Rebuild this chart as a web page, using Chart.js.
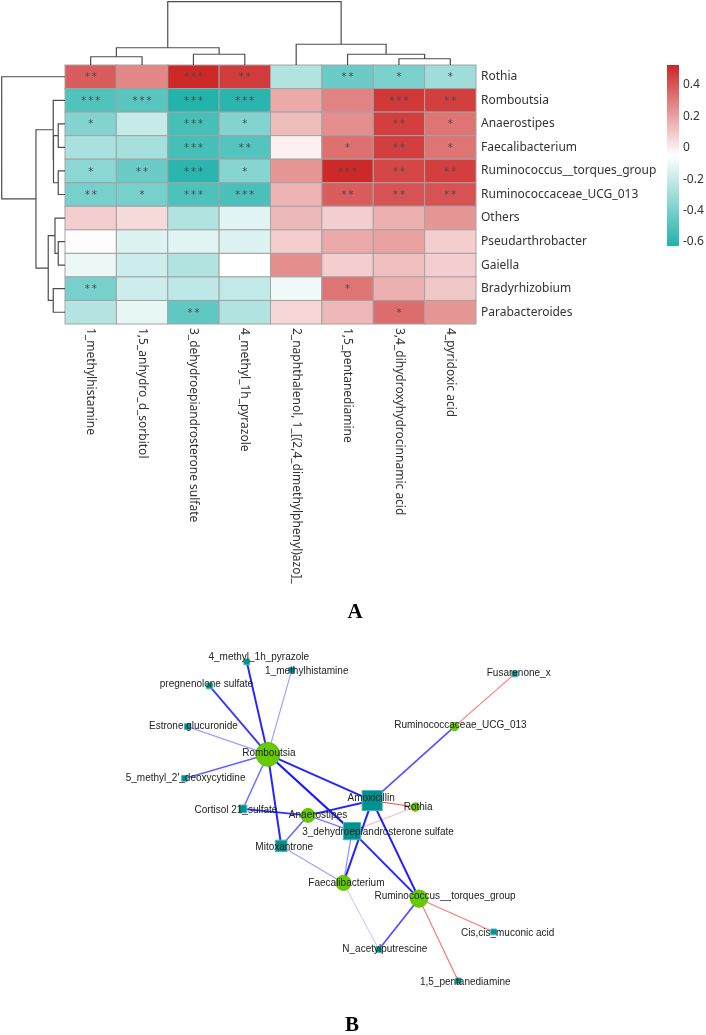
<!DOCTYPE html>
<html>
<head>
<meta charset="utf-8">
<script src="https://cdn.jsdelivr.net/npm/chart.js@4.4.1/dist/chart.umd.min.js"></script>
<style>
  html, body { margin: 0; padding: 0; background: #fff; }
  canvas { display: block; }
</style>
</head>
<body>
<canvas id="heatCanvas" width="706" height="630"></canvas>
<canvas id="netCanvas" width="706" height="405"></canvas>
<script>
//------------------------------------------------------------------------------
// 資料：相關係數熱圖 (A)
const taxa = ['Rothia', 'Romboutsia', 'Anaerostipes', 'Faecalibacterium', 'Ruminococcus__torques_group',
  'Ruminococcaceae_UCG_013', 'Others', 'Pseudarthrobacter', 'Gaiella', 'Bradyrhizobium', 'Parabacteroides'];

const metabolites = ['1_methylhistamine', '1,5_anhydro_d_sorbitol', '3_dehydroepiandrosterone sulfate',
  '4_methyl_1h_pyrazole', '2_naphthalenol, 1_[(2,4_dimethylphenyl)azo]_', '1,5_pentanediamine',
  '3,4_dihydroxyhydrocinnamic acid', '4_pyridoxic acid'];

// 每列一個菌屬，每欄一個代謝物
const corrValues = [
  [ 0.38,  0.27,  0.52,  0.47, -0.25, -0.43, -0.39, -0.30],
  [-0.50, -0.48, -0.62, -0.60,  0.18,  0.28,  0.48,  0.46],
  [-0.37, -0.20, -0.53, -0.37,  0.13,  0.25,  0.46,  0.32],
  [-0.27, -0.28, -0.53, -0.49, -0.01,  0.33,  0.46,  0.32],
  [-0.35, -0.43, -0.60, -0.36,  0.23,  0.52,  0.44,  0.46],
  [-0.40, -0.40, -0.51, -0.52,  0.15,  0.38,  0.41,  0.41],
  [ 0.08,  0.05, -0.25, -0.13,  0.14,  0.08,  0.16,  0.23],
  [-0.04, -0.14, -0.13, -0.14,  0.08,  0.18,  0.20,  0.08],
  [-0.10, -0.18, -0.25, -0.05,  0.25,  0.08,  0.12,  0.08],
  [-0.40, -0.18, -0.22, -0.21, -0.09,  0.32,  0.16,  0.10],
  [-0.24, -0.11, -0.46, -0.25,  0.06,  0.14,  0.34,  0.23]
];

const corrStars = [
  ['**', '', '***', '**', '', '**', '*', '*'],
  ['***', '***', '***', '***', '', '', '***', '**'],
  ['*', '', '***', '*', '', '', '**', '*'],
  ['', '', '***', '**', '', '*', '**', '*'],
  ['*', '**', '***', '*', '', '***', '**', '**'],
  ['**', '*', '***', '***', '', '**', '**', '**'],
  ['', '', '', '', '', '', '', ''],
  ['', '', '', '', '', '', '', ''],
  ['', '', '', '', '', '', '', ''],
  ['**', '', '', '', '', '*', '', ''],
  ['', '', '**', '', '', '', '*', '']
];

// 聚類樹 (hclust 格式：負數 = 葉節點，正數 = 前面的合併)
const colMerge = [[-1, -2, 0.33], [-3, -4, 0.43], [-7, -8, 0.25], [-6, 3, 0.43],
  [1, 2, 0.69], [-5, 4, 0.83], [5, 6, 2.53]];
const rowMerge = [[-3, -4, 0.27], [-5, -6, 0.27], [1, 2, 0.46], [-2, 3, 0.47], [-8, -9, 0.27],
  [-7, 5, 0.40], [-10, -11, 0.47], [6, 7, 0.67], [4, 8, 1.16], [-1, 9, 2.53]];

const legendMin = -0.625;
const legendMax = 0.527;
const legendTicks = [0.4, 0.2, 0, -0.2, -0.4, -0.6];

//------------------------------------------------------------------------------
// 資料：網絡圖 (B)
const nodeNames = ['4_methyl_1h_pyrazole', '1_methylhistamine', 'pregnenolone sulfate', 'Estrone glucuronide',
  'Romboutsia', "5_methyl_2'_deoxycytidine", 'Amoxicillin', 'Ruminococcaceae_UCG_013', 'Fusarenone_x',
  'Rothia', 'Cortisol 21_sulfate', 'Anaerostipes', '3_dehydroepiandrosterone sulfate', 'Mitoxantrone',
  'Faecalibacterium', 'Ruminococcus__torques_group', 'Cis,cis_muconic acid', 'N_acetylputrescine',
  '1,5_pentanediamine'];
const nodeX = [242, 289, 203, 180, 264, 177, 373, 459, 522, 418, 238, 306, 352, 278, 343, 422, 500, 380, 463];
const nodeY = [648, 657, 674, 718, 748, 774, 798, 718, 661, 805, 807, 814, 831, 847, 887, 904, 940, 959, 993];
const nodeIsTaxon = [0, 0, 0, 0, 1, 0, 0, 1, 0, 1, 0, 1, 0, 0, 1, 1, 0, 0, 0];
const nodeWeight = [1.5, 1.5, 1.5, 1.5, 9, 1.5, 9, 2, 1.5, 2, 2.5, 4.5, 7.5, 4.5, 5, 6, 1.5, 1.5, 1.5];

// 邊：[來源, 目標, 相關係數]
const edges = [
  ['Romboutsia', '4_methyl_1h_pyrazole', -0.55],
  ['Romboutsia', '1_methylhistamine', -0.36],
  ['Romboutsia', 'pregnenolone sulfate', -0.52],
  ['Romboutsia', 'Estrone glucuronide', -0.36],
  ['Romboutsia', "5_methyl_2'_deoxycytidine", -0.45],
  ['Romboutsia', 'Cortisol 21_sulfate', -0.43],
  ['Romboutsia', 'Mitoxantrone', -0.55],
  ['Romboutsia', '3_dehydroepiandrosterone sulfate', -0.57],
  ['Romboutsia', 'Amoxicillin', -0.55],
  ['Amoxicillin', 'Ruminococcaceae_UCG_013', -0.48],
  ['Amoxicillin', 'Rothia', 0.50],
  ['Amoxicillin', 'Anaerostipes', -0.55],
  ['Amoxicillin', 'Ruminococcus__torques_group', -0.56],
  ['Amoxicillin', 'Faecalibacterium', -0.55],
  ['3_dehydroepiandrosterone sulfate', 'Rothia', 0.33],
  ['3_dehydroepiandrosterone sulfate', 'Anaerostipes', -0.42],
  ['3_dehydroepiandrosterone sulfate', 'Ruminococcus__torques_group', -0.55],
  ['3_dehydroepiandrosterone sulfate', 'Faecalibacterium', -0.38],
  ['Anaerostipes', 'Cortisol 21_sulfate', -0.53],
  ['Anaerostipes', 'Mitoxantrone', -0.45],
  ['Mitoxantrone', 'Faecalibacterium', -0.36],
  ['Faecalibacterium', 'N_acetylputrescine', -0.31],
  ['Ruminococcus__torques_group', 'N_acetylputrescine', -0.48],
  ['Ruminococcus__torques_group', 'Cis,cis_muconic acid', 0.45],
  ['Ruminococcus__torques_group', '1,5_pentanediamine', 0.48],
  ['Ruminococcaceae_UCG_013', 'Fusarenone_x', 0.45]
];

//------------------------------------------------------------------------------
// 顏色：lightseagreen - white - firebrick3
const lowCol = [32, 178, 170];
const midCol = [255, 255, 255];
const highCol = [205, 38, 38];

function mix(a, b, t) {
  return 'rgb(' + a.map((c, k) => Math.round(c + (b[k] - c) * t)).join(',') + ')';
}
function heatColor(v) {
  let t = (v - legendMin) / (legendMax - legendMin);
  t = Math.max(0, Math.min(1, t));
  return t < 0.5 ? mix(lowCol, midCol, t * 2) : mix(midCol, highCol, (t - 0.5) * 2);
}

// 聚類樹：回傳每個節點的位置與高度，並畫線
function drawDendro(ctx, merges, leafPix, heightPix, vertical) {
  const pos = [], hgt = [];
  const get = id => id < 0 ? [leafPix(-id - 1), 0] : [pos[id - 1], hgt[id - 1]];
  const maxH = Math.max(...merges.map(m => m[2]));
  ctx.beginPath();
  merges.forEach(function(m, k) {
    const a = get(m[0]), b = get(m[1]);
    const h = m[2];
    pos[k] = (a[0] + b[0]) / 2;
    hgt[k] = h;
    const pa = heightPix(a[1] / maxH), pb = heightPix(b[1] / maxH), ph = heightPix(h / maxH);
    if (vertical) {       // 上方欄聚類樹
      ctx.moveTo(a[0], pa); ctx.lineTo(a[0], ph); ctx.lineTo(b[0], ph); ctx.lineTo(b[0], pb);
    } else {              // 左方列聚類樹
      ctx.moveTo(pa, a[0]); ctx.lineTo(ph, a[0]); ctx.lineTo(ph, b[0]); ctx.lineTo(pb, b[0]);
    }
  });
  ctx.stroke();
}

const heatmapPlugin = {
  id: 'heatmapCells',
  afterDatasetsDraw(chart) {
    const ctx = chart.ctx;
    const xs = chart.scales.x, ys = chart.scales.y;
    const area = chart.chartArea;
    ctx.save();

    // 色塊
    corrValues.forEach(function(row, i) {
      row.forEach(function(v, j) {
        const x0 = xs.getPixelForValue(j), x1 = xs.getPixelForValue(j + 1);
        const y0 = ys.getPixelForValue(i), y1 = ys.getPixelForValue(i + 1);
        ctx.fillStyle = heatColor(v);
        ctx.fillRect(x0, y0, x1 - x0, y1 - y0);
        ctx.strokeStyle = '#a3a3a3';
        ctx.lineWidth = 1;
        ctx.strokeRect(x0, y0, x1 - x0, y1 - y0);
      });
    });

    // 顯著性星號
    ctx.fillStyle = '#4a4a4a';
    ctx.font = '10px "DejaVu Sans"';
    ctx.textAlign = 'center';
    ctx.textBaseline = 'middle';
    corrStars.forEach(function(row, i) {
      row.forEach(function(s, j) {
        if (!s) return;
        const cx = xs.getPixelForValue(j + 0.5), cy = ys.getPixelForValue(i + 0.5);
        ctx.fillText(s.split('').join('\u2009'), cx, cy + 1);
      });
    });

    // 列名稱
    ctx.fillStyle = '#333';
    ctx.font = '12px "Noto Sans"';
    ctx.textAlign = 'left';
    taxa.forEach(function(name, i) {
      ctx.fillText(name, area.right + 5, ys.getPixelForValue(i + 0.5));
    });

    // 欄名稱 (旋轉 90 度)
    metabolites.forEach(function(name, j) {
      ctx.save();
      ctx.translate(xs.getPixelForValue(j + 0.5), area.bottom + 4);
      ctx.rotate(Math.PI / 2);
      ctx.textAlign = 'left';
      ctx.textBaseline = 'middle';
      ctx.fillText(name, 0, 0);
      ctx.restore();
    });

    // 聚類樹
    ctx.strokeStyle = '#4d4d4d';
    ctx.lineWidth = 1.2;
    const dendroSize = area.top - 1.7;
    drawDendro(ctx, colMerge, k => xs.getPixelForValue(k + 0.5), t => area.top - t * dendroSize, true);
    drawDendro(ctx, rowMerge, k => ys.getPixelForValue(k + 0.5), t => area.left - t * (area.left - 1.7), false);

    // 色條
    const barX = 667, barW = 12, barTop = area.top, barBottom = 246;
    const barPix = v => barBottom - (v - legendMin) / (legendMax - legendMin) * (barBottom - barTop);
    for (let p = barTop; p < barBottom; p++) {
      const v = legendMin + (barBottom - p - 0.5) / (barBottom - barTop) * (legendMax - legendMin);
      ctx.fillStyle = heatColor(v);
      ctx.fillRect(barX, p, barW, 1);
    }
    ctx.fillStyle = '#333';
    ctx.font = '12px "Noto Sans"';
    ctx.textAlign = 'left';
    ctx.textBaseline = 'middle';
    legendTicks.forEach(function(t) {
      ctx.fillText(String(t), barX + barW + 4, barPix(t));
    });

    // 圖號
    ctx.fillStyle = '#000';
    ctx.font = 'bold 21px "Liberation Serif"';
    ctx.textAlign = 'center';
    ctx.fillText('A', 355, 613);
    ctx.restore();
  }
};

const heatChart = new Chart(document.getElementById('heatCanvas').getContext('2d'), {
  type: 'scatter',
  data: { datasets: [] },
  options: {
    responsive: false,
    animation: false,
    layout: { padding: { left: 65, top: 65, right: 230, bottom: 306 } },
    scales: {
      x: { type: 'linear', min: 0, max: metabolites.length, display: false },
      y: { type: 'linear', min: 0, max: taxa.length, reverse: true, display: false }
    },
    plugins: { legend: { display: false }, tooltip: { enabled: false } }
  },
  plugins: [heatmapPlugin]
});

//------------------------------------------------------------------------------
// 網絡圖
const netTop = 630;
const nodeIndex = name => nodeNames.indexOf(name);

function edgeStyle(r) {
  const a = Math.max(0.22, Math.min(1, 0.25 + (Math.abs(r) - 0.3) * 2.8));
  const base = r < 0 ? '25,25,255' : '255,55,55';
  return {
    color: 'rgba(' + base + ',' + a.toFixed(2) + ')',
    width: r < 0 ? 0.9 + (Math.abs(r) - 0.3) * 4.4 : 1.1
  };
}

const edgeDatasets = edges.map(function(e) {
  const s = nodeIndex(e[0]), t = nodeIndex(e[1]);
  const st = edgeStyle(e[2]);
  return {
    data: [{ x: nodeX[s], y: nodeY[s] }, { x: nodeX[t], y: nodeY[t] }],
    showLine: true,
    borderColor: st.color,
    borderWidth: st.width,
    pointRadius: 0,
    pointHoverRadius: 0,
    order: 2
  };
});

const taxonIdx = nodeNames.map((n, i) => i).filter(i => nodeIsTaxon[i]);
const metabIdx = nodeNames.map((n, i) => i).filter(i => !nodeIsTaxon[i]);

const taxonDataset = {
  data: taxonIdx.map(i => ({ x: nodeX[i], y: nodeY[i] })),
  pointStyle: 'circle',
  pointRadius: taxonIdx.map(i => 2 + nodeWeight[i] * 1.1),
  backgroundColor: '#66cc00',
  borderColor: '#5cbf00',
  borderWidth: 1,
  order: 0
};
const metabDataset = {
  data: metabIdx.map(i => ({ x: nodeX[i], y: nodeY[i] })),
  pointStyle: 'rect',
  pointRadius: metabIdx.map(i => (1.5 + nodeWeight[i] * 0.95) * Math.SQRT2),
  backgroundColor: '#009191',
  borderColor: '#45b9b9',
  borderWidth: 1,
  order: 1
};

// 標籤位置微調
const labelShift = {
  '4_methyl_1h_pyrazole': [12, -5], '1_methylhistamine': [15, 1], 'pregnenolone sulfate': [-3, -2],
  'Estrone glucuronide': [6, 0], 'Romboutsia': [1, -1], "5_methyl_2'_deoxycytidine": [1, 0],
  'Amoxicillin': [-1, -2], 'Ruminococcaceae_UCG_013': [6, -1], 'Fusarenone_x': [4, -1], 'Rothia': [3, 0],
  'Cortisol 21_sulfate': [-7, 1], 'Anaerostipes': [10, 0], '3_dehydroepiandrosterone sulfate': [26, 1],
  'Mitoxantrone': [3, 1], 'Faecalibacterium': [3, 0], 'Ruminococcus__torques_group': [26, -2],
  'Cis,cis_muconic acid': [14, 1], 'N_acetylputrescine': [6, 0], '1,5_pentanediamine': [7, 1]
};

const netLabelPlugin = {
  id: 'netLabels',
  afterDatasetsDraw(chart) {
    const ctx = chart.ctx;
    const xs = chart.scales.x, ys = chart.scales.y;
    ctx.save();
    ctx.fillStyle = '#222';
    ctx.font = '10px "Liberation Sans"';
    ctx.textAlign = 'center';
    ctx.textBaseline = 'middle';
    nodeNames.forEach(function(name, i) {
      const d = labelShift[name] || [0, 0];
      ctx.fillText(name, xs.getPixelForValue(nodeX[i]) + d[0], ys.getPixelForValue(nodeY[i]) + d[1]);
    });
    ctx.fillStyle = '#000';
    ctx.font = 'bold 21px "Liberation Serif"';
    ctx.fillText('B', 352, 1026 - netTop);
    ctx.restore();
  }
};

const netChart = new Chart(document.getElementById('netCanvas').getContext('2d'), {
  type: 'scatter',
  data: { datasets: [taxonDataset, metabDataset].concat(edgeDatasets) },
  options: {
    responsive: false,
    animation: false,
    layout: { padding: 0 },
    scales: {
      x: { type: 'linear', min: 0, max: 706, display: false },
      y: { type: 'linear', min: netTop, max: netTop + 405, reverse: true, display: false }
    },
    plugins: { legend: { display: false }, tooltip: { enabled: false } }
  },
  plugins: [netLabelPlugin]
});
</script>
</body>
</html>
